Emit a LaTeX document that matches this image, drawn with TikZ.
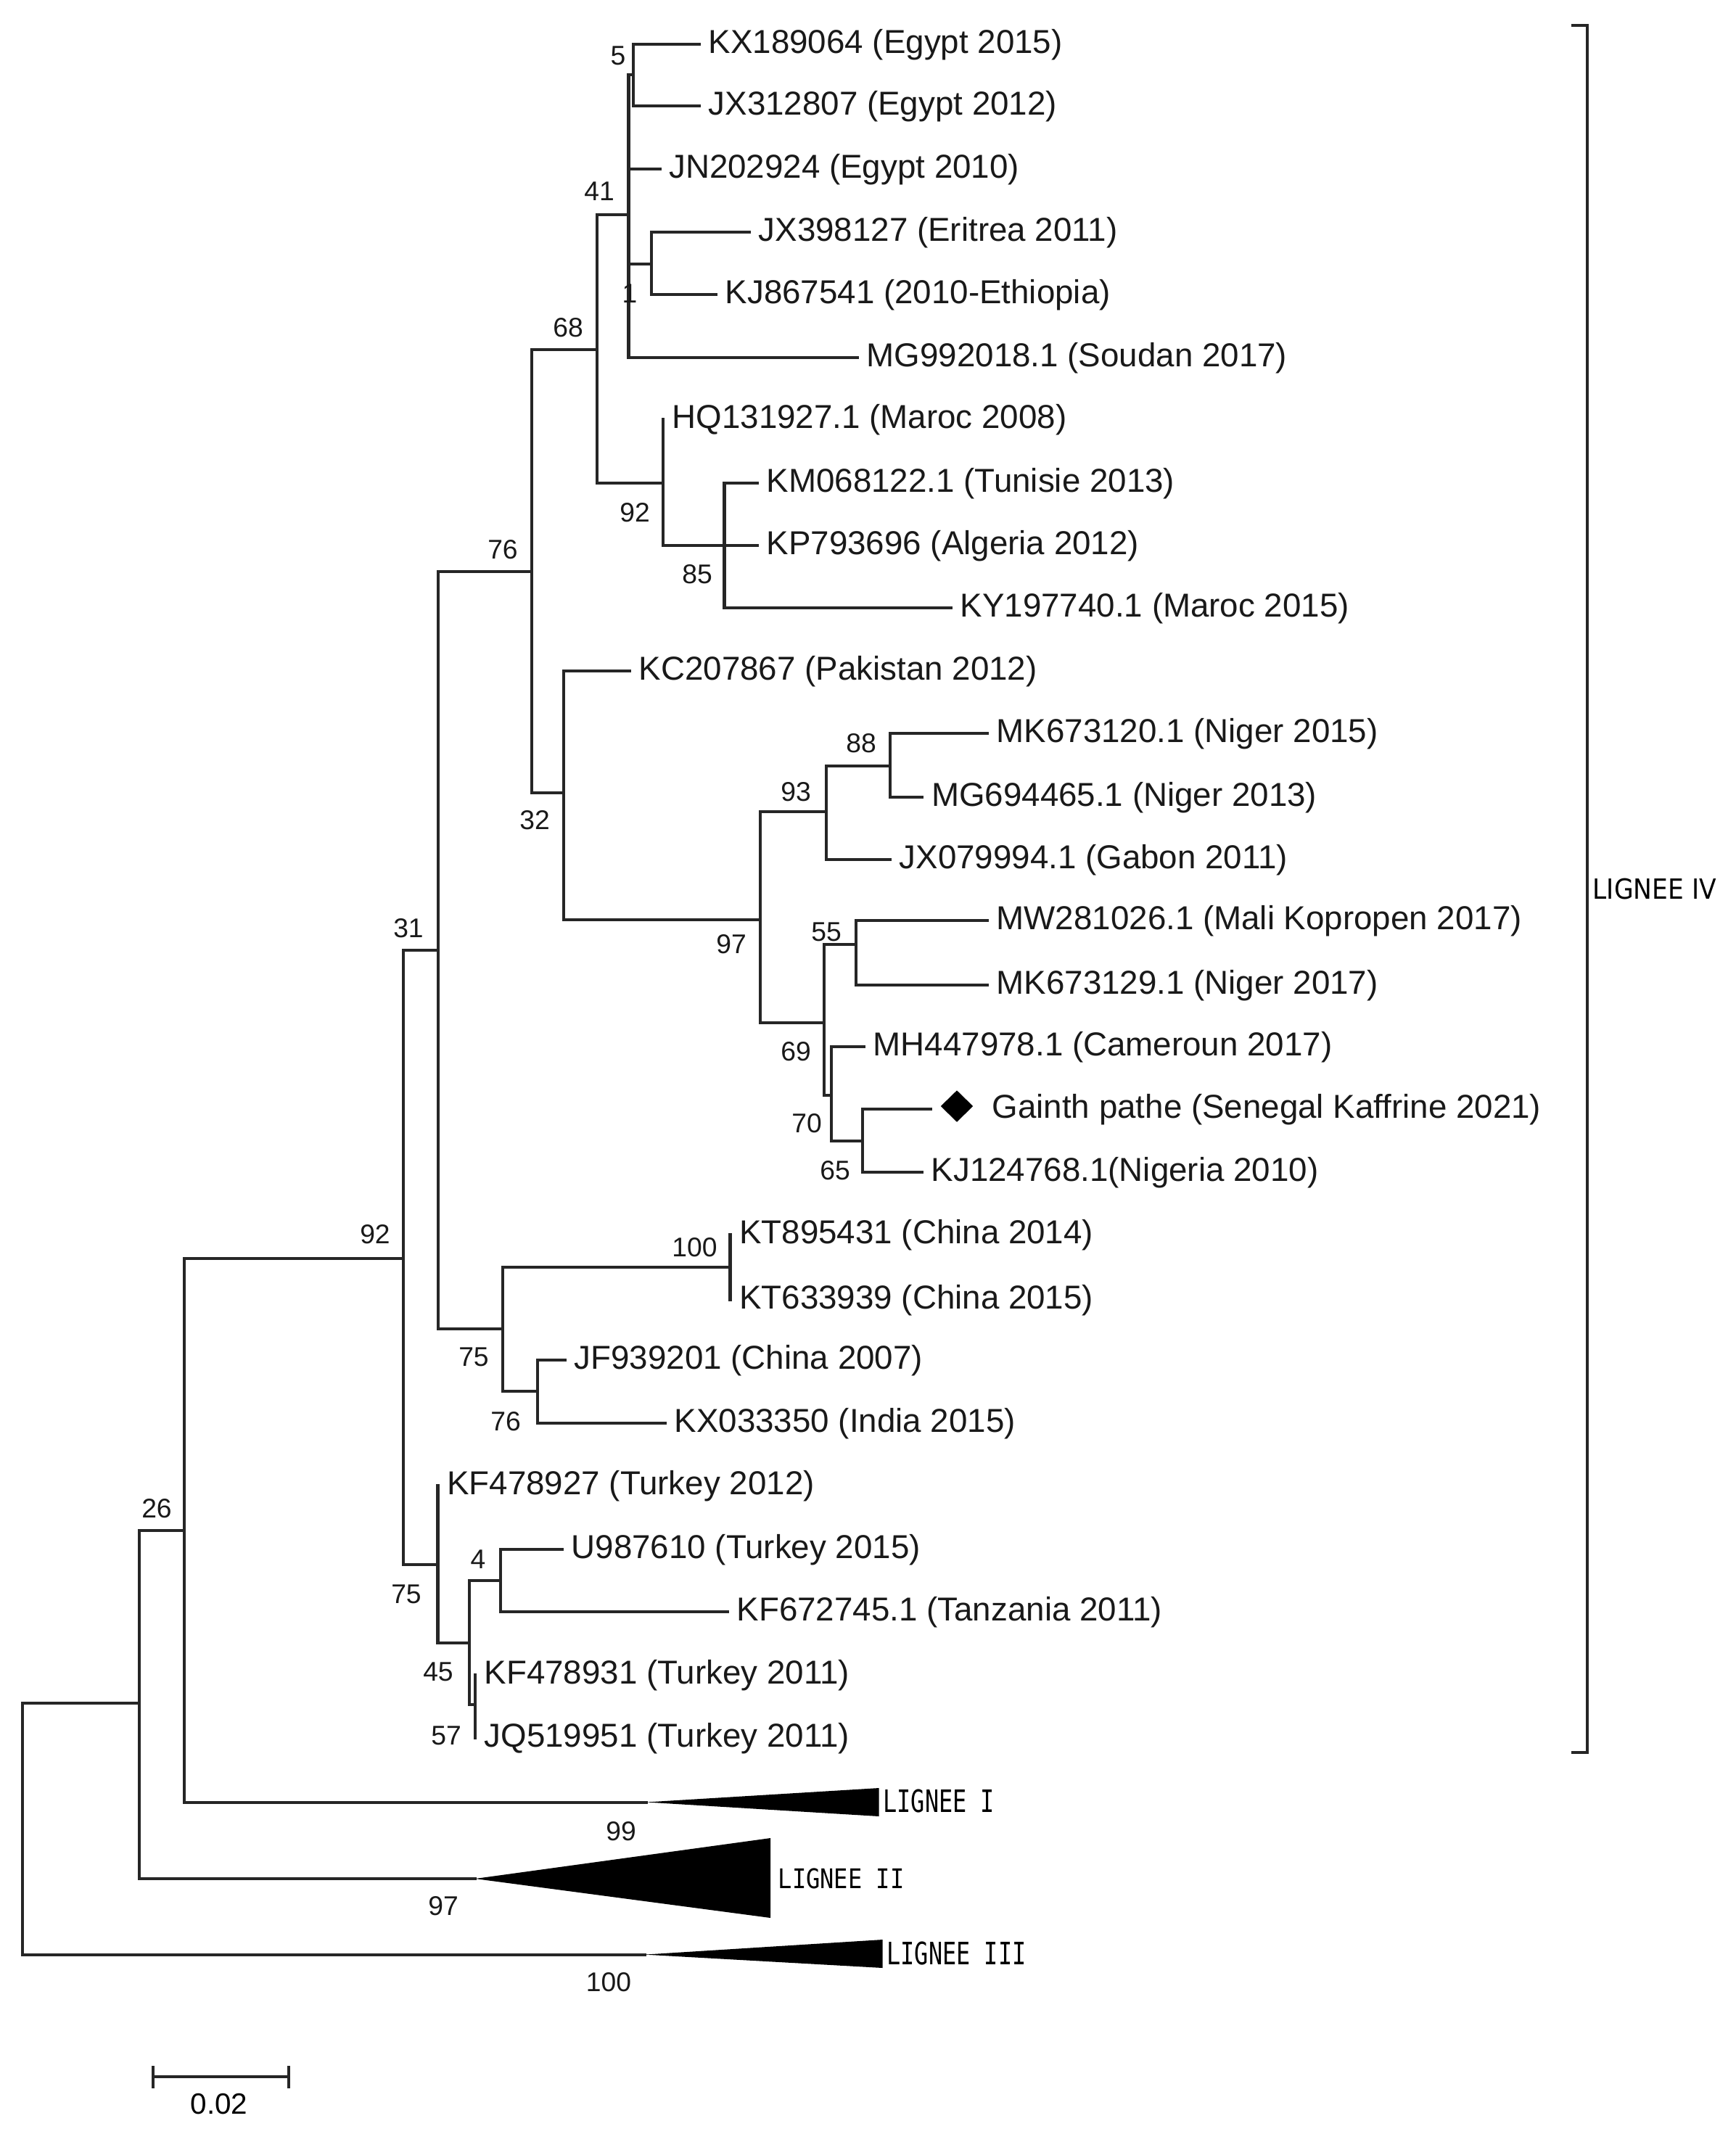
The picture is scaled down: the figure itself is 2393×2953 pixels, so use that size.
\documentclass[tikz,border=0pt]{standalone}
\usepackage{fontspec}
\setmainfont{Liberation Sans}
\newfontfamily\lgfont{DejaVu Sans Mono}
\usepackage{graphicx}
\usetikzlibrary{shapes.geometric}
\begin{document}
\begin{tikzpicture}[x=0.01cm,y=-0.01cm,
  br/.style={line width=1.15pt, draw=black!85, line cap=rect},
  leaf/.style={anchor=base west, inner sep=0pt, xshift=0.12cm, yshift=-0.125cm, font=\fontsize{13}{15}\selectfont, text=black!90},
  boot/.style={inner sep=0pt, font=\fontsize{10.6}{12}\selectfont, text=black!90},
  lg/.style={anchor=west, inner sep=0pt}]
\useasboundingbox[fill=white] (0,0) rectangle (2393,2953);

% internal nodes
\coordinate (R)    at (30.7,2521);
\coordinate (A)    at (192.4,2348);
\coordinate (N26)  at (254,2110);
\coordinate (N92)  at (556,1734.5);
\coordinate (N31)  at (604,1310);
\coordinate (N76)  at (733.3,788);
\coordinate (N68)  at (823,482);
\coordinate (N41)  at (866.5,296);
\coordinate (N5)   at (873,103);
\coordinate (N1)   at (898,363.6);
\coordinate (NM92) at (914,666);
\coordinate (N85)  at (998.5,752);
\coordinate (N32)  at (777,1093);
\coordinate (N97)  at (1048,1268);
\coordinate (N93)  at (1139,1119);
\coordinate (N88)  at (1227,1055.5);
\coordinate (N69)  at (1136,1410);
\coordinate (N55)  at (1180,1302);
\coordinate (N70)  at (1146,1510);
\coordinate (N65)  at (1189,1573);
\coordinate (NC75) at (693,1832);
\coordinate (N100) at (1006.5,1747);
\coordinate (NI76) at (741,1918);
\coordinate (NT75) at (603.5,2157);
\coordinate (N45)  at (647,2265);
\coordinate (N4)   at (690,2178.5);
\coordinate (N57)  at (655,2349.5);
% collapsed clade tips
\coordinate (L1) at (891,2484.5);
\coordinate (L2) at (655,2590);
\coordinate (L3) at (889,2694.6);
% leaves
\coordinate (lKX)  at (964,61);
\coordinate (lJX3) at (964,146);
\coordinate (lJN)  at (909.5,233);
\coordinate (lJX9) at (1033,320);
\coordinate (lKJ8) at (987,406);
\coordinate (lMG9) at (1182,493);
\coordinate (lHQ)  at (914,578);
\coordinate (lKM)  at (1044,666);
\coordinate (lKP)  at (1044,752);
\coordinate (lKY)  at (1311,838);
\coordinate (lKC)  at (868,925);
\coordinate (lMK0) at (1361,1011);
\coordinate (lMG6) at (1271.4,1099);
\coordinate (lJX0) at (1227,1185);
\coordinate (lMW)  at (1361,1269);
\coordinate (lMK9) at (1361,1358);
\coordinate (lMH)  at (1191,1443);
\coordinate (lGP)  at (1283,1529);
\coordinate (lKJ1) at (1271,1616);
\coordinate (lKT8) at (1006.5,1702);
\coordinate (lKT6) at (1006.5,1792);
\coordinate (lJF)  at (779,1875);
\coordinate (lKX0) at (917,1962);
\coordinate (lKF7) at (603.5,2048);
\coordinate (lU9)  at (775,2136);
\coordinate (lKF6) at (1003,2222);
\coordinate (lKF1) at (655,2309);
\coordinate (lJQ)  at (655,2396);

% branches
\draw[br] (R) |- (A) (R) |- (L3);
\draw[br] (A) |- (N26) (A) |- (L2);
\draw[br] (N26) |- (N92) (N26) |- (L1);
\draw[br] (N92) |- (N31) (N92) |- (NT75);
\draw[br] (N31) |- (N76) (N31) |- (NC75);
\draw[br] (N76) |- (N68) (N76) |- (N32);
\draw[br] (N68) |- (N41) (N68) |- (NM92);
\draw[br] (N41) |- (N5) (N41) |- (lJN) (N41) |- (N1) (N41) |- (lMG9);
\draw[br] (N5) |- (lKX) (N5) |- (lJX3);
\draw[br] (N1) |- (lJX9) (N1) |- (lKJ8);
\draw[br] (NM92) |- (lHQ) (NM92) |- (N85);
\draw[br] (N85) |- (lKM) (N85) |- (lKP) (N85) |- (lKY);
\draw[br] (N32) |- (lKC) (N32) |- (N97);
\draw[br] (N97) |- (N93) (N97) |- (N69);
\draw[br] (N93) |- (N88) (N93) |- (lJX0);
\draw[br] (N88) |- (lMK0) (N88) |- (lMG6);
\draw[br] (N69) |- (N55) (N69) |- (N70);
\draw[br] (N55) |- (lMW) (N55) |- (lMK9);
\draw[br] (N70) |- (lMH) (N70) |- (N65);
\draw[br] (N65) |- (lGP) (N65) |- (lKJ1);
\draw[br] (NC75) |- (N100) (NC75) |- (NI76);
\draw[br] (N100) |- (lKT8) (N100) |- (lKT6);
\draw[br] (NI76) |- (lJF) (NI76) |- (lKX0);
\draw[br] (NT75) |- (lKF7) (NT75) |- (N45);
\draw[br] (N45) |- (N4) (N45) |- (N57);
\draw[br] (N4) |- (lU9) (N4) |- (lKF6);
\draw[br] (N57) |- (lKF1) (N57) |- (lJQ);

% collapsed clades
\fill[black] (L1) -- (1211.6,2465) -- (1211.6,2504) -- cycle;
\fill[black] (L2) -- (1062,2534) -- (1062,2644) -- cycle;
\fill[black] (L3) -- (1216.7,2674) -- (1216.7,2713) -- cycle;

% leaf labels
\node[leaf] (tKX)  at (lKX)  {KX189064 (Egypt 2015)};
\node[leaf] (tJX3) at (lJX3) {JX312807 (Egypt 2012)};
\node[leaf] (tJN)  at (lJN)  {JN202924 (Egypt 2010)};
\node[leaf] (tJX9) at (lJX9) {JX398127 (Eritrea 2011)};
\node[leaf] (tKJ8) at (lKJ8) {KJ867541 (2010-Ethiopia)};
\node[leaf] (tMG9) at (lMG9) {MG992018.1 (Soudan 2017)};
\node[leaf] (tHQ)  at (lHQ)  {HQ131927.1 (Maroc 2008)};
\node[leaf] (tKM)  at (lKM)  {KM068122.1 (Tunisie 2013)};
\node[leaf] (tKP)  at (lKP)  {KP793696 (Algeria 2012)};
\node[leaf] (tKY)  at (lKY)  {KY197740.1 (Maroc 2015)};
\node[leaf] (tKC)  at (lKC)  {KC207867 (Pakistan 2012)};
\node[leaf] (tMK0) at (lMK0) {MK673120.1 (Niger 2015)};
\node[leaf] (tMG6) at (lMG6) {MG694465.1 (Niger 2013)};
\node[leaf] (tJX0) at (lJX0) {JX079994.1 (Gabon 2011)};
\node[leaf] (tMW)  at (lMW)  {MW281026.1 (Mali Kopropen 2017)};
\node[leaf] (tMK9) at (lMK9) {MK673129.1 (Niger 2017)};
\node[leaf] (tMH)  at (lMH)  {MH447978.1 (Cameroun 2017)};
\node[diamond, fill=black, inner sep=0pt, minimum width=0.45cm, minimum height=0.44cm] (dGP) at (1319,1525) {};
\node[leaf, xshift=0cm] (tGP) at (1355,1529) {Gainth pathe (Senegal Kaffrine 2021)};
\node[leaf] (tKJ1) at (lKJ1) {KJ124768.1(Nigeria 2010)};
\node[leaf] (tKT8) at (lKT8) {KT895431 (China 2014)};
\node[leaf] (tKT6) at (lKT6) {KT633939 (China 2015)};
\node[leaf] (tJF)  at (lJF)  {JF939201 (China 2007)};
\node[leaf] (tKX0) at (lKX0) {KX033350 (India 2015)};
\node[leaf] (tKF7) at (lKF7) {KF478927 (Turkey 2012)};
\node[leaf] (tU9)  at (lU9)  {U987610 (Turkey 2015)};
\node[leaf] (tKF6) at (lKF6) {KF672745.1 (Tanzania 2011)};
\node[leaf] (tKF1) at (lKF1) {KF478931 (Turkey 2011)};
\node[leaf] (tJQ)  at (lJQ)  {JQ519951 (Turkey 2011)};

% bootstrap values
\node[boot] (b5)    at (852,77)     {5};
\node[boot] (b41)   at (826,264)    {41};
\node[boot] (b1)    at (868,405)    {1};
\node[boot] (b68)   at (783,452)    {68};
\node[boot] (b92m)  at (875,707)    {92};
\node[boot] (b85)   at (961,792)    {85};
\node[boot] (b76)   at (693,758)    {76};
\node[boot] (b32)   at (737,1131)   {32};
\node[boot] (b93)   at (1097,1092)  {93};
\node[boot] (b88)   at (1187,1025)  {88};
\node[boot] (b97)   at (1008,1302)  {97};
\node[boot] (b55)   at (1139,1285)  {55};
\node[boot] (b69)   at (1097,1450)  {69};
\node[boot] (b70)   at (1112,1549)  {70};
\node[boot] (b65)   at (1151,1614)  {65};
\node[boot] (b31)   at (563,1280)   {31};
\node[boot] (b100c) at (957.5,1719.5) {100};
\node[boot] (b75c)  at (653,1871)   {75};
\node[boot] (b76i)  at (697,1960)   {76};
\node[boot] (b92)   at (517,1701.5) {92};
\node[boot] (b26)   at (216,2080)   {26};
\node[boot] (b75t)  at (560,2197.5) {75};
\node[boot] (b4)    at (659,2150)   {4};
\node[boot] (b45)   at (604,2305)   {45};
\node[boot] (b57)   at (615,2392.5) {57};
\node[boot] (b99)   at (856,2525)   {99};
\node[boot] (b97l)  at (611,2628)   {97};
\node[boot] (b100l) at (839,2733)   {100};

% clade names
\node[lg] (LG1) at (1216.7,2483) {\scalebox{0.75}[1]{\lgfont\fontsize{12.1}{14}\selectfont LIGNEE I}};
\node[lg] (LG2) at (1072,2590) {\scalebox{0.86}[1]{\lgfont\fontsize{10.6}{13}\selectfont LIGNEE II}};
\node[lg] (LG3) at (1221.7,2693) {\scalebox{0.75}[1]{\lgfont\fontsize{12.1}{14}\selectfont LIGNEE III}};

% bracket for lineage IV
\coordinate (BT) at (2166,35);
\coordinate (BB) at (2166,2416);
\draw[line width=1.4pt, draw=black!85] (BT) -- (2188,35) -- (2188,2416) -- (BB);
\node[lg] (LG4) at (2195,1226) {\scalebox{0.9}[1]{\fontspec{DejaVu Sans}\fontsize{10.9}{13}\selectfont LIGNEE IV}};

% scale bar
\coordinate (S1) at (211,2862.7);
\coordinate (S2) at (398.3,2862.7);
\draw[line width=1.1pt, draw=black!85] (S1) -- (S2);
\draw[line width=1.1pt, draw=black!85] (211,2848) -- (211,2879) (398.3,2848) -- (398.3,2879);
\node[inner sep=0pt, font=\fontsize{11.5}{13}\selectfont] (Slab) at (302,2901) {0.02};
\end{tikzpicture}
\end{document}
